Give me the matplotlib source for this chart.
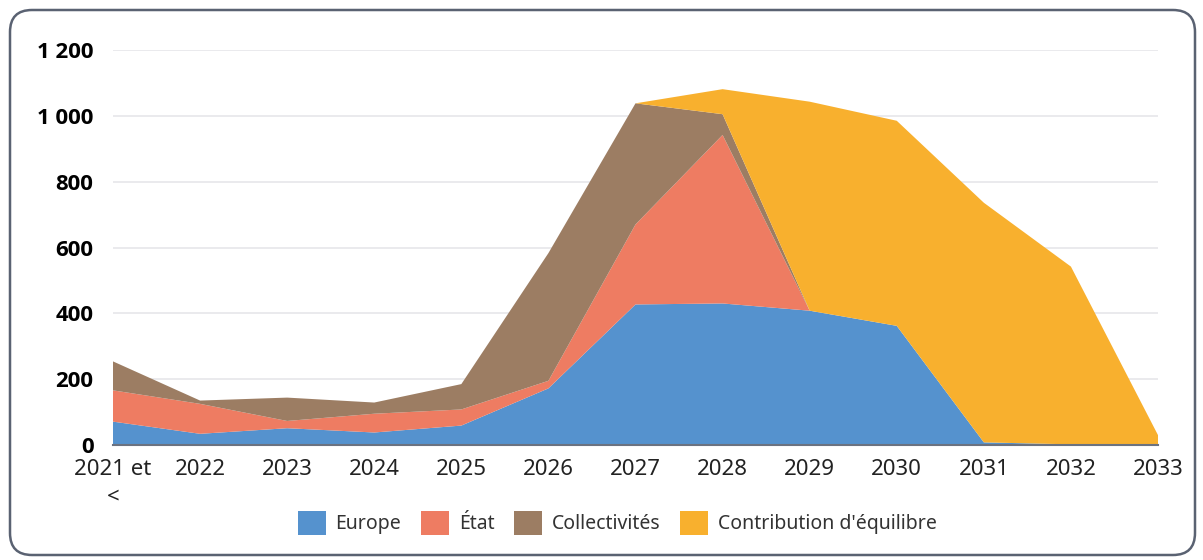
import numpy as np
import matplotlib
matplotlib.use("Agg")
import matplotlib.pyplot as plt
from matplotlib.patches import FancyBboxPatch, Patch
from matplotlib.transforms import IdentityTransform

plt.rcParams['font.family'] = ['Noto Sans', 'DejaVu Sans']

# données
annees = ["2021 et\n<", "2022", "2023", "2024", "2025", "2026", "2027",
          "2028", "2029", "2030", "2031", "2032", "2033"]
europe = [71, 34, 51, 38, 59, 172, 427, 430, 408, 362, 8, 2, 0]
etat = [95, 91, 22, 57, 49, 23, 243, 512, 0, 0, 0, 0, 0]
collectivites = [88, 10, 71, 34, 77, 388, 368, 63, 0, 0, 0, 0, 0]
contribution = [0, 0, 0, 0, 0, 0, 0, 76, 635, 623, 728, 540, 30]

graduations = [0, 200, 400, 600, 800, 1000, 1200]
series = ["Europe", "État", "Collectivités", "Contribution d'équilibre"]
couleurs = ["#5592CE", "#EE7C62", "#9C7D63", "#F8B02E"]

fig = plt.figure(figsize=(12.03, 5.6), dpi=100)
ax = fig.add_axes([113/1203, 1 - 445/560, (1158 - 113)/1203, (445 - 50)/560])

x = np.arange(len(annees))
ax.stackplot(x, europe, etat, collectivites, contribution,
             colors=couleurs, labels=series, linewidth=0, zorder=2)

ax.set_xlim(0, len(annees) - 1)
ax.set_ylim(0, 1200)
ax.set_yticks(graduations)
ax.set_yticklabels([f"{g:,}".replace(",", " ") for g in graduations],
                   fontweight='bold', fontsize=16,
                   family=['Open Sans', 'DejaVu Sans'])
ax.set_xticks(x)
ax.set_xticklabels(annees, fontsize=16, linespacing=1.4)
ax.grid(axis='y', color='#e6e6ea', linewidth=1.2, zorder=0)
ax.set_axisbelow(True)
for s in ['top', 'right', 'left']:
    ax.spines[s].set_visible(False)
ax.spines['bottom'].set_color('#6b7280')
ax.spines['bottom'].set_linewidth(1.5)
ax.spines['bottom'].set_zorder(3)
ax.tick_params(axis='both', length=0)
ax.tick_params(axis='y', pad=14)
ax.tick_params(axis='x', pad=10, colors='#222222')

poignees = [Patch(facecolor=c, label=l) for c, l in zip(couleurs, series)]
fig.legend(handles=poignees, loc='center', bbox_to_anchor=(0.513, 1 - 523/560),
           ncol=4, frameon=False, fontsize=14, handlelength=1.45, handleheight=1.45,
           columnspacing=1.0, handletextpad=0.5, labelcolor='#333333')

# cadre arrondi
cadre = FancyBboxPatch((10, 5), 1185, 545, boxstyle="round,pad=0,rounding_size=22",
                       transform=IdentityTransform(), fill=False,
                       edgecolor='#5a6272', linewidth=1.8)
fig.patches.append(cadre)

fig.savefig("out.png", dpi=100)
